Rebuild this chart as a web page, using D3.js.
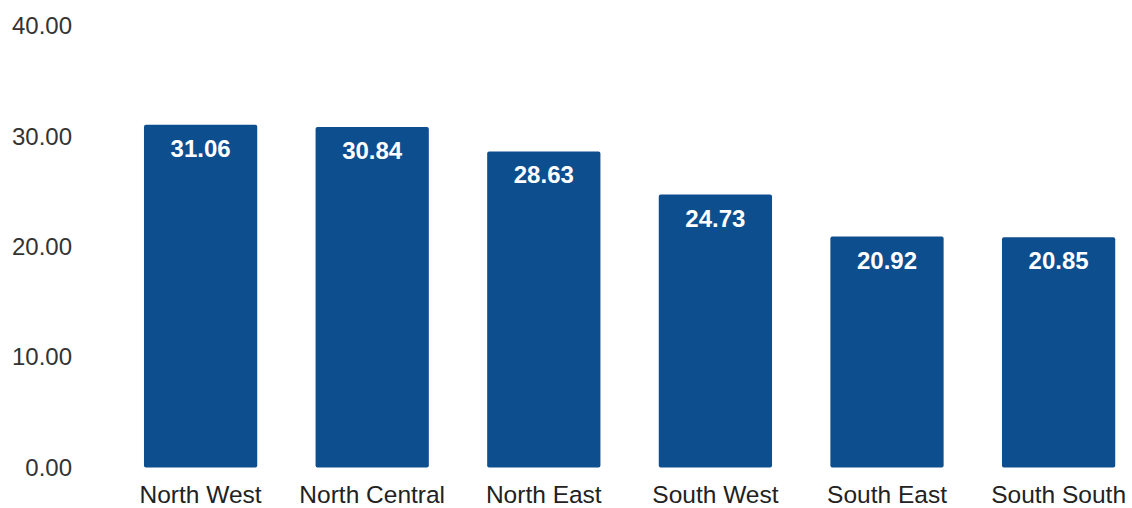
<!DOCTYPE html>
<html>
<head>
<meta charset="utf-8">
<script src="https://cdn.jsdelivr.net/npm/d3@7"></script>
<style>
  html, body { margin: 0; padding: 0; background: #ffffff; }
  svg { display: block; }
</style>
</head>
<body>
<svg id="chart" width="1132" height="508"></svg>
<script>
// Regional values
const regions = ["North West", "North Central", "North East", "South West", "South East", "South South"];
const values = [31.06, 30.84, 28.63, 24.73, 20.92, 20.85];
const yTicks = [0, 10, 20, 30, 40];

const width = 1132, height = 508;
const svg = d3.select("#chart");

const x = d3.scaleBand()
  .domain(regions)
  .range([114.8, 1144.4])
  .paddingInner(0.34)
  .paddingOuter(0.17);

const y = d3.scaleLinear()
  .domain([0, 40])
  .range([467.5, 26]);

const font = "'Liberation Sans', Arial, sans-serif";

// Y axis: labels only, no line or grid
const yAxis = d3.axisLeft(y)
  .tickValues(yTicks)
  .tickFormat(d3.format(".2f"))
  .tickSize(0)
  .tickPadding(0);

svg.append("g")
  .attr("transform", "translate(72,0)")
  .call(yAxis)
  .call(g => g.select(".domain").remove())
  .call(g => g.selectAll("text")
    .attr("font-family", font)
    .attr("font-size", 24)
    .attr("fill", "#333"));

// X axis: category labels
const xAxis = d3.axisBottom(x).tickSize(0).tickPadding(0);
svg.append("g")
  .attr("transform", "translate(0,486)")
  .call(xAxis)
  .call(g => g.select(".domain").remove())
  .call(g => g.selectAll("text")
    .attr("font-family", font)
    .attr("font-size", 24.5)
    .attr("fill", "#222"));

// Bars
svg.append("g")
  .selectAll("rect")
  .data(values)
  .join("rect")
  .attr("x", (d, i) => x(regions[i]))
  .attr("y", d => y(d))
  .attr("width", x.bandwidth())
  .attr("height", d => y(0) - y(d))
  .attr("rx", 2)
  .attr("fill", "#0d4e8f");

// Value labels inside the top of each bar
svg.append("g")
  .selectAll("text")
  .data(values)
  .join("text")
  .attr("x", (d, i) => x(regions[i]) + x.bandwidth() / 2)
  .attr("y", d => y(d) + 32)
  .attr("text-anchor", "middle")
  .attr("font-family", font)
  .attr("font-size", 24)
  .attr("font-weight", "bold")
  .attr("fill", "#ffffff")
  .text(d => d.toFixed(2));
</script>
</body>
</html>
